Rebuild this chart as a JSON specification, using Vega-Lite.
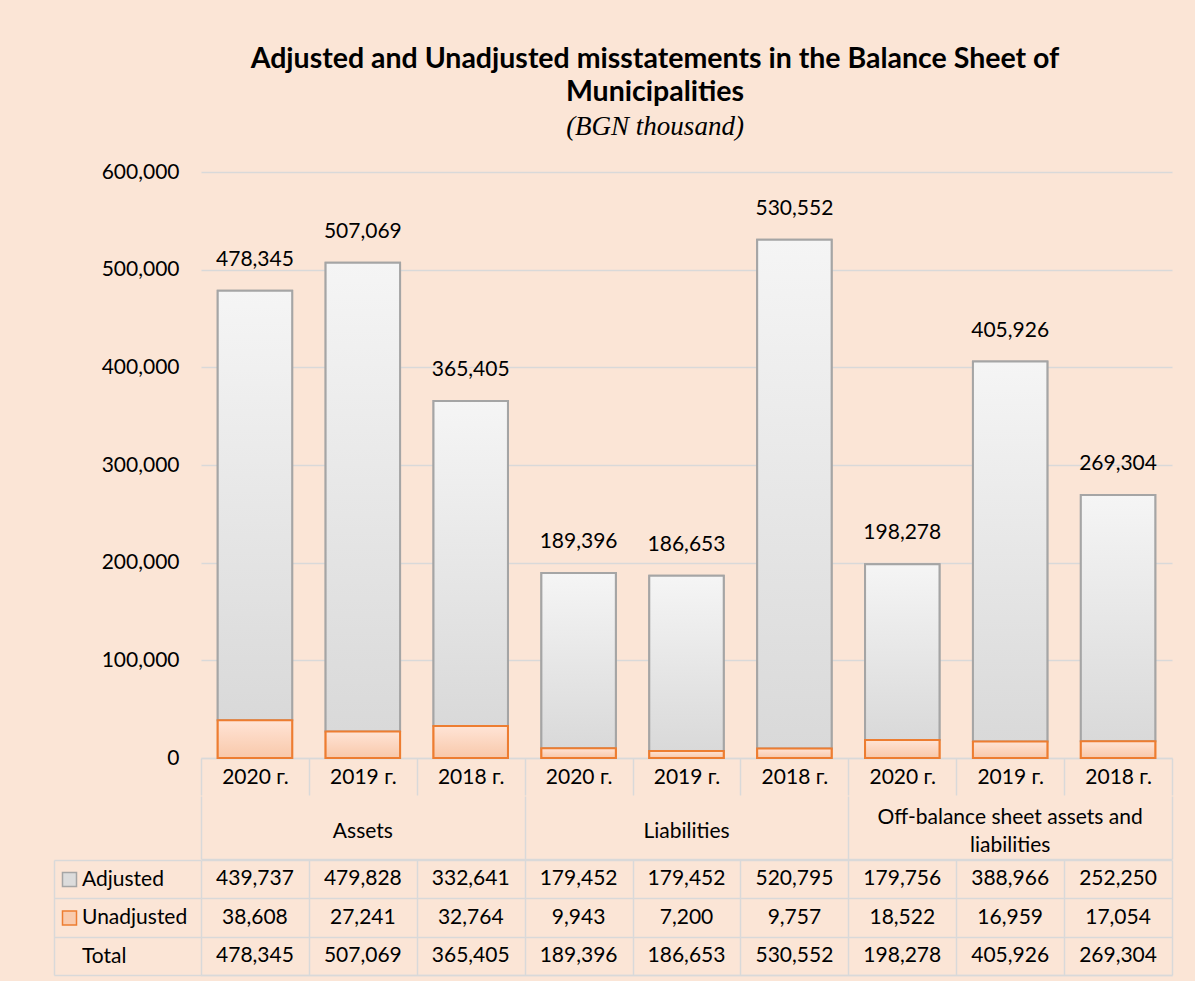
{
  "$schema": "https://vega.github.io/schema/vega-lite/v6.json",
  "padding": {"left": 53, "top": 44, "right": 24, "bottom": 6},
  "background": "#FBE5D6",
  "title": {
    "text": ["Adjusted and Unadjusted misstatements in the Balance Sheet of", "Municipalities"],
    "subtitle": "(BGN thousand)",
    "font": "Lato", "fontSize": 28.5, "fontWeight": "bold", "color": "#000000", "lineHeight": 33,
    "subtitleFont": "Liberation Serif", "subtitleFontStyle": "italic", "subtitleFontSize": 27,
    "subtitleColor": "#000000", "subtitlePadding": 8, "anchor": "middle", "offset": 21, "dx": 42
  },
  "datasets": {
    "main": [
      {"col": "Assets|2020 г.", "group": "Assets", "year": "2020 г.", "Adjusted": 439737, "Unadjusted": 38608, "Total": 478345},
      {"col": "Assets|2019 г.", "group": "Assets", "year": "2019 г.", "Adjusted": 479828, "Unadjusted": 27241, "Total": 507069},
      {"col": "Assets|2018 г.", "group": "Assets", "year": "2018 г.", "Adjusted": 332641, "Unadjusted": 32764, "Total": 365405},
      {"col": "Liabilities|2020 г.", "group": "Liabilities", "year": "2020 г.", "Adjusted": 179452, "Unadjusted": 9943, "Total": 189396},
      {"col": "Liabilities|2019 г.", "group": "Liabilities", "year": "2019 г.", "Adjusted": 179452, "Unadjusted": 7200, "Total": 186653},
      {"col": "Liabilities|2018 г.", "group": "Liabilities", "year": "2018 г.", "Adjusted": 520795, "Unadjusted": 9757, "Total": 530552},
      {"col": "Off|2020 г.", "group": "Off-balance sheet assets and\nliabilities", "year": "2020 г.", "Adjusted": 179756, "Unadjusted": 18522, "Total": 198278},
      {"col": "Off|2019 г.", "group": "Off-balance sheet assets and\nliabilities", "year": "2019 г.", "Adjusted": 388966, "Unadjusted": 16959, "Total": 405926},
      {"col": "Off|2018 г.", "group": "Off-balance sheet assets and\nliabilities", "year": "2018 г.", "Adjusted": 252250, "Unadjusted": 17054, "Total": 269304}
    ]
  },
  "spacing": 0,
  "resolve": {"scale": {"x": "independent", "y": "independent"}},
  "vconcat": [
    {
      "width": 971, "height": 586,
      "data": {"name": "main"},
      "layer": [
        {
          "transform": [{"fold": ["Adjusted", "Unadjusted"], "as": ["key", "value"]}],
          "mark": {"type": "bar", "width": {"band": 0.69}, "strokeWidth": 2},
          "encoding": {
            "x": {"field": "col", "type": "nominal", "sort": null,
              "scale": {"paddingInner": 0, "paddingOuter": 0},
              "axis": {"title": null, "labelExpr": "split(datum.label, '|')[1]", "labelAngle": 0,
                "domainColor": "#D9D9D9", "domainWidth": 1.5, "tickColor": "#D9D9D9", "tickWidth": 1.5,
                "tickSize": 37, "tickBand": "extent", "labelPadding": -29, "labelBaseline": "top"}},
            "y": {"field": "value", "type": "quantitative", "stack": "zero",
              "scale": {"domain": [0, 600000], "nice": false},
              "axis": {"title": null, "format": ",.0f", "values": [0, 100000, 200000, 300000, 400000, 500000, 600000],
                "domain": false, "ticks": false, "labelPadding": 22, "gridColor": "#D9D9D9", "gridWidth": 1.5}},
            "order": {"field": "key", "sort": "descending"},
            "fill": {"field": "key", "type": "nominal",
              "scale": {"domain": ["Adjusted", "Unadjusted", "Total"], "range": ["#DCDCDC", "#F9CBAE", "rgba(0,0,0,0)"]},
              "legend": {"orient": "none", "legendX": -142, "legendY": 697, "title": null, "symbolType": "square",
                "symbolSize": 196, "symbolStrokeWidth": 1.5, "labelFontSize": 21, "labelFont": "Lato",
                "labelColor": "#000000", "labelOffset": 2, "rowPadding": 16.5, "padding": 0, "direction": "vertical"}},
            "stroke": {"field": "key", "type": "nominal",
              "scale": {"domain": ["Adjusted", "Unadjusted", "Total"], "range": ["#A5A5A5", "#ED7D31", "rgba(0,0,0,0)"]},
              "legend": {"orient": "none", "legendX": -142, "legendY": 697, "title": null, "symbolType": "square",
                "symbolSize": 196, "symbolStrokeWidth": 1.5, "labelFontSize": 21, "labelFont": "Lato",
                "labelColor": "#000000", "labelOffset": 2, "rowPadding": 16.5, "padding": 0, "direction": "vertical"}}
          }
        },
        {
          "mark": {"type": "bar", "width": {"band": 0.69}, "stroke": "#A5A5A5", "strokeWidth": 2,
            "fill": {"gradient": "linear", "x1": 0, "y1": 0, "x2": 0, "y2": 1,
              "stops": [{"offset": 0, "color": "#F5F5F5"}, {"offset": 1, "color": "#D9D9D9"}]}},
          "encoding": {
            "x": {"field": "col", "type": "nominal", "sort": null},
            "y": {"field": "Total", "type": "quantitative"},
            "y2": {"field": "Unadjusted"}
          }
        },
        {
          "mark": {"type": "bar", "width": {"band": 0.69}, "stroke": "#ED7D31", "strokeWidth": 2,
            "fill": {"gradient": "linear", "x1": 0, "y1": 0, "x2": 0, "y2": 1,
              "stops": [{"offset": 0, "color": "#FFE4D6"}, {"offset": 1, "color": "#F8C8AA"}]}},
          "encoding": {
            "x": {"field": "col", "type": "nominal", "sort": null},
            "y": {"field": "Unadjusted", "type": "quantitative"}
          }
        },
        {
          "mark": {"type": "text", "baseline": "middle", "dy": -31, "fontSize": 21, "font": "Lato", "color": "#000000"},
          "encoding": {
            "x": {"field": "col", "type": "nominal", "sort": null},
            "y": {"field": "Total", "type": "quantitative"},
            "text": {"field": "Total", "type": "quantitative", "format": ",.0f"}
          }
        }
      ]
    },
    {
      "width": 971, "height": 63,
      "data": {"name": "main"},
      "transform": [{"filter": "datum.year == '2019 г.'"}],
      "encoding": {
        "x": {"field": "group", "type": "nominal", "sort": null,
          "scale": {"paddingInner": 0, "paddingOuter": 0},
          "axis": {"title": null, "labels": false, "ticks": false, "domainColor": "#D9D9D9", "domainWidth": 1.5,
            "grid": true, "gridColor": "#D9D9D9", "gridWidth": 1.5, "tickBand": "extent", "minExtent": 0, "maxExtent": 0}},
        "text": {"field": "group", "type": "nominal"}
      },
      "layer": [
        {
          "transform": [{"filter": "indexof(datum.group, '\\n') < 0"}],
          "mark": {"type": "text", "fontSize": 21, "font": "Lato", "color": "#000000", "dy": 4}
        },
        {
          "transform": [{"filter": "indexof(datum.group, '\\n') >= 0"}],
          "mark": {"type": "text", "fontSize": 21, "font": "Lato", "lineBreak": "\n", "lineHeight": 28, "color": "#000000", "dy": -10}
        }
      ]
    },
    {
      "width": 971, "height": 115,
      "data": {"name": "main"},
      "transform": [{"fold": ["Adjusted", "Unadjusted", "Total"], "as": ["row", "value"]}],
      "mark": {"type": "text", "fontSize": 21, "font": "Lato", "color": "#000000"},
      "encoding": {
        "x": {"field": "col", "type": "nominal", "sort": null,
          "scale": {"paddingInner": 0, "paddingOuter": 0},
          "axis": {"title": null, "labels": false, "ticks": false, "domainColor": "#D9D9D9", "domainWidth": 1.5,
            "grid": true, "gridColor": "#D9D9D9", "gridWidth": 1.5, "tickBand": "extent"}},
        "y": {"field": "row", "type": "nominal", "sort": ["Adjusted", "Unadjusted", "Total"],
          "scale": {"paddingInner": 0, "paddingOuter": 0},
          "axis": {"title": null, "labels": false, "offset": 147, "domainColor": "#D9D9D9", "domainWidth": 1.5,
            "tickColor": "#D9D9D9", "tickWidth": 1.5, "tickSize": -147, "tickBand": "extent",
            "grid": true, "gridColor": "#D9D9D9", "gridWidth": 1.5}},
        "text": {"field": "value", "type": "quantitative", "format": ",.0f"}
      }
    }
  ],
  "config": {
    "view": {"stroke": null},
    "font": "Lato",
    "axis": {"labelFont": "Lato", "labelFontSize": 21, "labelColor": "#000000"}
  }
}
